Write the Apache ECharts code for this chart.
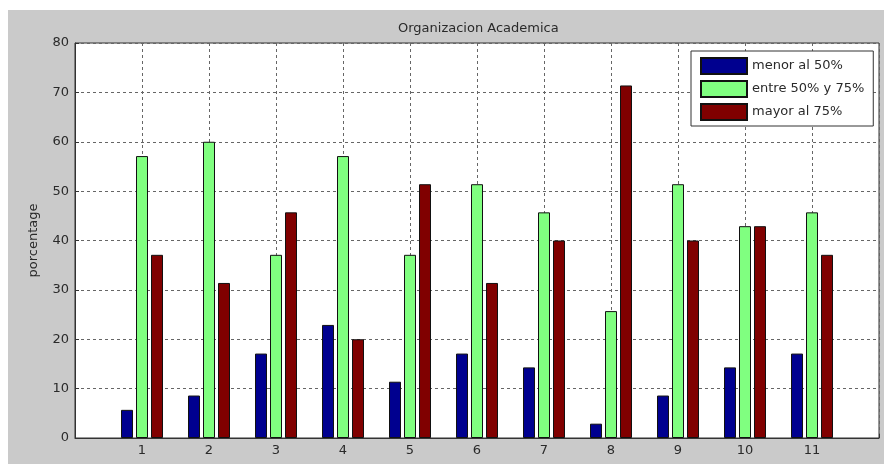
<!DOCTYPE html>
<html>
<head>
<meta charset="utf-8">
<script src="https://cdn.jsdelivr.net/npm/echarts@6/dist/echarts.min.js"></script>
<style>
    body { margin: 0; background: #fff; }
    #bg { position: absolute; left: 8px; top: 10px; width: 876px; height: 454px; background: #cacaca; }
    #chart { position: absolute; left: 0; top: 0; width: 886px; height: 464px; }
</style>
</head>
<body>
<div id="bg"></div>
<div id="chart"></div>
<script>
// datos de la grafica
var categorias = [1, 2, 3, 4, 5, 6, 7, 8, 9, 10, 11];
var menor50 = [5.7, 8.6, 17.1, 22.9, 11.4, 17.1, 14.3, 2.9, 8.6, 14.3, 17.1];
var entre50y75 = [57.1, 60.0, 37.1, 57.1, 37.1, 51.4, 45.7, 25.7, 51.4, 42.9, 45.7];
var mayor75 = [37.1, 31.4, 45.7, 20.0, 51.4, 31.4, 40.0, 71.4, 40.0, 42.9, 37.1];
var nombres = ['menor al 50%', 'entre 50% y 75%', 'mayor al 75%'];
var colores = ['#00008f', '#80ff80', '#800000'];

var fuente = 'DejaVu Sans';

function pares(valores) {
    return categorias.map(function (c, i) { return [c, valores[i]]; });
}

var gridLine = {
    show: true,
    lineStyle: { color: '#666', width: 1, type: [3, 3] }
};

var chartObj = echarts.init(document.getElementById('chart'));
chartObj.setOption({
    backgroundColor: 'transparent',
    animation: false,
    textStyle: { fontFamily: fuente },
    title: {
        text: 'Organizacion Academica',
        left: 393,
        top: 17,
        textStyle: { fontFamily: fuente, fontSize: 13, fontWeight: 'normal', color: '#2a2a2a' }
    },
    legend: {
        data: nombres,
        orient: 'vertical',
        left: 691,
        top: 51,
        itemWidth: 46,
        itemHeight: 16,
        itemGap: 5,
        padding: [6, 9, 5, 9],
        backgroundColor: '#fff',
        borderColor: '#333',
        borderWidth: 1,
        borderRadius: 0,
        icon: 'rect',
        textStyle: { fontFamily: fuente, fontSize: 13, color: '#2a2a2a' }
    },
    grid: {
        left: 75,
        top: 43,
        right: 7,
        bottom: 26,
        show: true,
        backgroundColor: '#fff',
        borderColor: '#333',
        borderWidth: 1
    },
    xAxis: {
        type: 'value',
        min: 0,
        max: 12,
        interval: 1,
        axisLine: { show: true, onZero: false, lineStyle: { color: '#333' } },
        axisTick: { show: true, inside: true, length: 4, lineStyle: { color: '#333' } },
        axisLabel: {
            fontFamily: fuente, fontSize: 13, color: '#2a2a2a', margin: 6,
            formatter: function (v) { return (v >= 1 && v <= 11) ? String(v) : ''; }
        },
        splitLine: gridLine
    },
    yAxis: {
        type: 'value',
        min: 0,
        max: 80,
        interval: 10,
        name: 'porcentage',
        nameLocation: 'middle',
        nameGap: 35,
        nameTextStyle: { fontFamily: fuente, fontSize: 13, color: '#2a2a2a' },
        axisLine: { show: true, lineStyle: { color: '#333' } },
        axisTick: { show: true, inside: true, length: 4, lineStyle: { color: '#333' } },
        axisLabel: { fontFamily: fuente, fontSize: 13, color: '#2a2a2a', margin: 6 },
        splitLine: gridLine
    },
    series: [menor50, entre50y75, mayor75].map(function (vals, i) {
        return {
            name: nombres[i],
            type: 'bar',
            barWidth: 12,
            barGap: '25%',
            data: pares(vals),
            itemStyle: { color: colores[i], borderColor: '#111', borderWidth: 1 }
        };
    })
});
</script>
</body>
</html>
